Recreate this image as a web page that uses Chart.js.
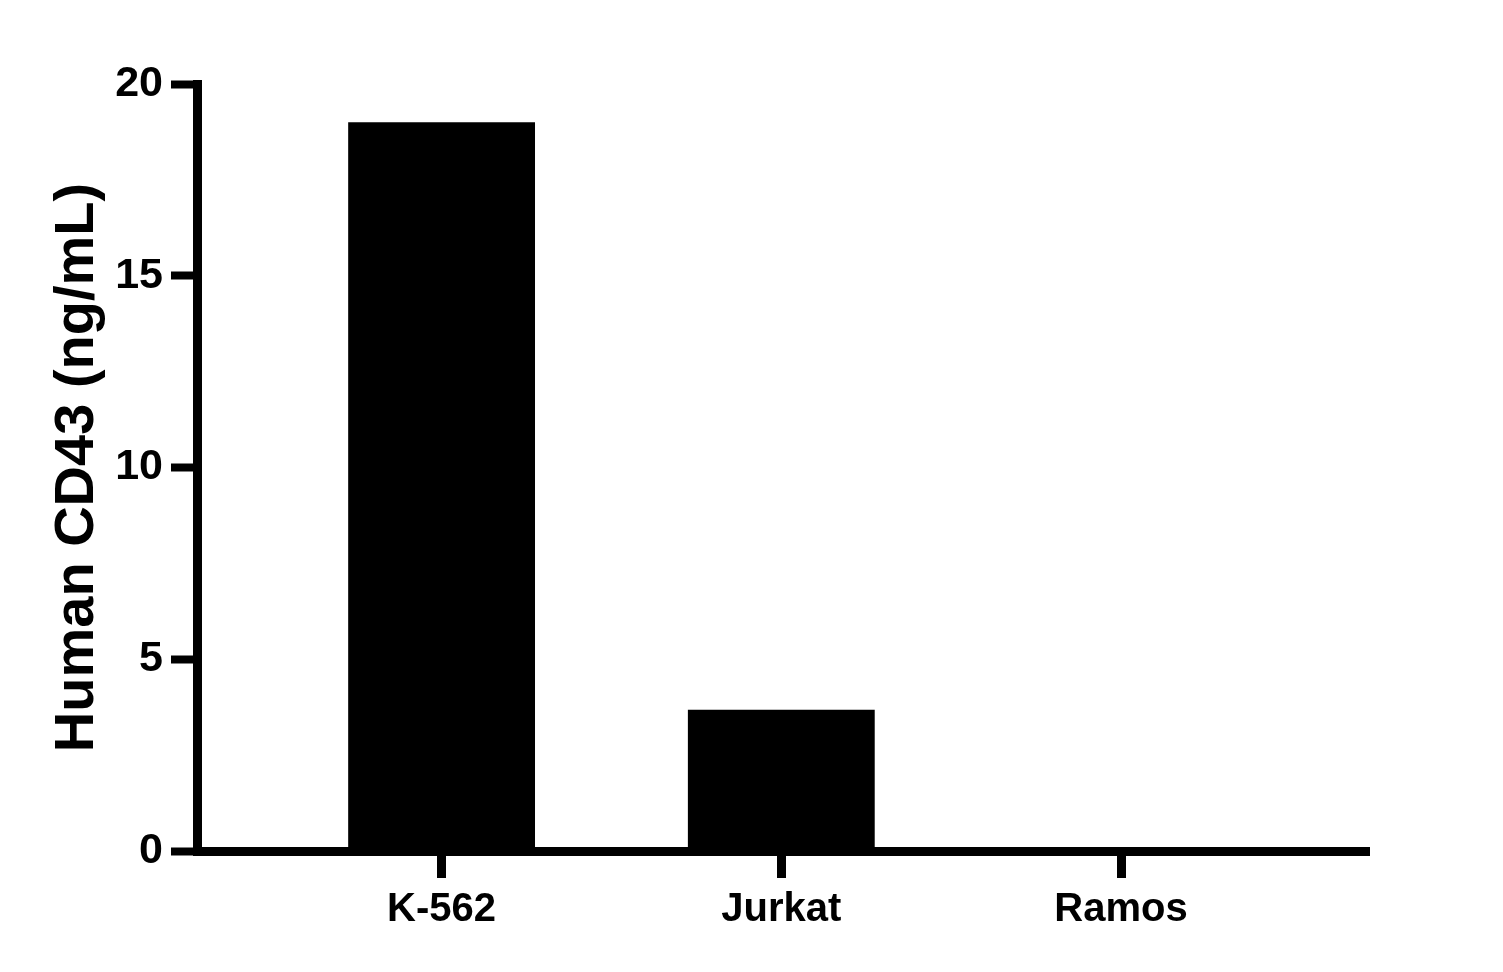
<!DOCTYPE html>
<html>
<head>
<meta charset="utf-8">
<script src="https://cdn.jsdelivr.net/npm/chart.js@4/dist/chart.umd.min.js"></script>
<style>
html,body{margin:0;padding:0;background:#fff;}
#wrap{width:1503px;height:972px;}
</style>
</head>
<body>
<div id="wrap"><canvas id="c" width="1503" height="972"></canvas></div>
<script>
const categories = ['K-562', 'Jurkat', 'Ramos'];
const values = [19.0, 3.68, 0];
const yTicks = [0, 5, 10, 15, 20];
const yTitle = 'Human CD43 (ng/mL)';

const positions = categories.map((_, i) => i);
const FONT = '"Liberation Sans", Arial, sans-serif';

new Chart(document.getElementById('c'), {
  type: 'bar',
  data: {
    datasets: [{
      data: positions.map((p, i) => ({x: p, y: values[i]})),
      backgroundColor: '#000',
      borderWidth: 0,
      barPercentage: 0.55,
      categoryPercentage: 1
    }]
  },
  options: {
    responsive: false,
    animation: false,
    devicePixelRatio: 1,
    layout: {padding: {left: 0, top: 84, right: 134, bottom: 0}},
    plugins: {legend: {display: false}, tooltip: {enabled: false}},
    scales: {
      x: {
        type: 'linear',
        offset: false,
        min: -0.72,
        max: 2.73,
        afterBuildTicks: (s) => { s.ticks = positions.map(v => ({value: v})); },
        afterFit: (s) => { s.height = 121; },
        grid: {offset: false, drawOnChartArea: false, drawTicks: true, tickLength: 27, tickWidth: 9, tickColor: '#000'},
        border: {display: true, width: 9, color: '#000'},
        ticks: {
          color: '#000',
          padding: 8,
          maxRotation: 0,
          font: {family: FONT, size: 40, weight: 'bold'},
          callback: (v) => categories[v] ?? ''
        }
      },
      y: {
        type: 'linear',
        min: 0,
        max: 20,
        afterBuildTicks: (s) => { s.ticks = yTicks.map(v => ({value: v})); },
        afterFit: (s) => { s.width = 197; },
        grid: {drawOnChartArea: false, drawTicks: true, tickLength: 26, tickWidth: 8, tickColor: '#000'},
        border: {display: true, width: 9, color: '#000'},
        ticks: {
          color: '#000',
          padding: 8,
          font: {family: FONT, size: 43, weight: 'bold'}
        },
        title: {
          display: true,
          text: yTitle,
          color: '#000',
          font: {family: FONT, size: 56, weight: 'bold', lineHeight: 1},
          padding: {top: 50, bottom: 0}
        }
      }
    }
  }
});
</script>
</body>
</html>
